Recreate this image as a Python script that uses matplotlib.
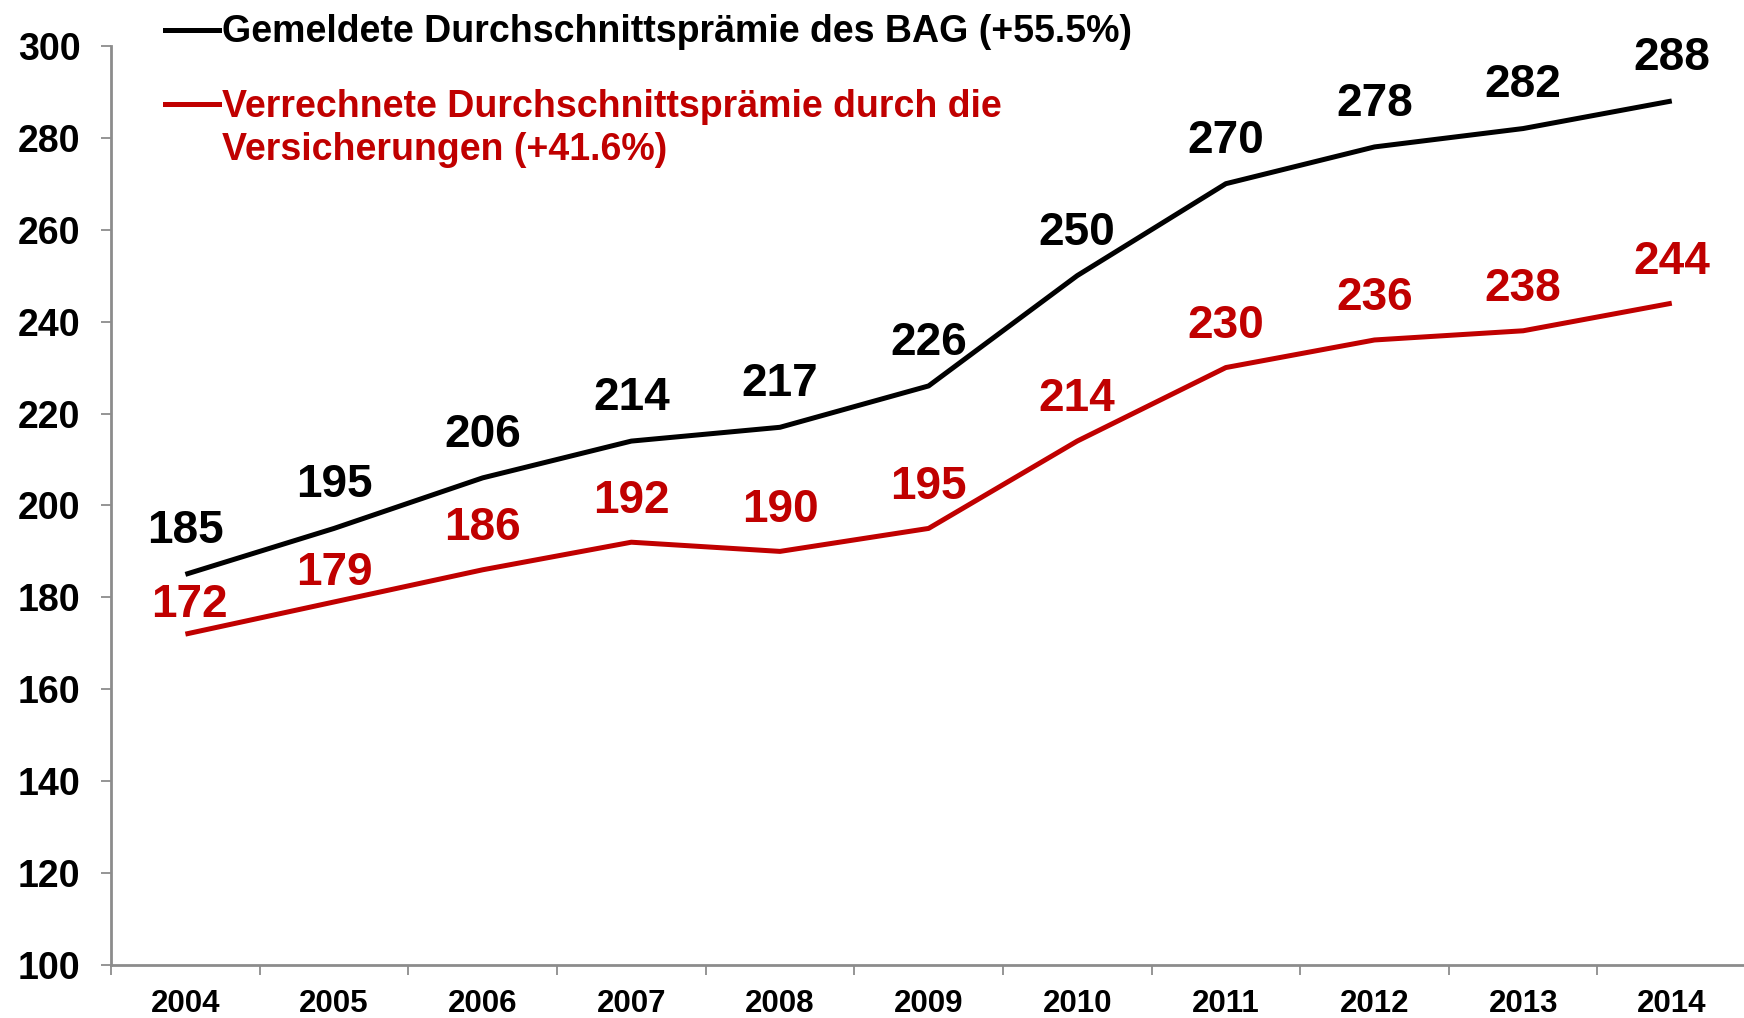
import matplotlib.pyplot as plt
from matplotlib.lines import Line2D

# Daten
years = ['2004', '2005', '2006', '2007', '2008', '2009', '2010', '2011', '2012', '2013', '2014']
bag = [185, 195, 206, 214, 217, 226, 250, 270, 278, 282, 288]
verrechnet = [172, 179, 186, 192, 190, 195, 214, 230, 236, 238, 244]
yticks = [100, 120, 140, 160, 180, 200, 220, 240, 260, 280, 300]

label_bag = 'Gemeldete Durchschnittsprämie des BAG (+55.5%)'
label_ver = ['Verrechnete Durchschnittsprämie durch die', 'Versicherungen (+41.6%)']

RED = '#C00000'
GREY = '#8C8C8C'

plt.rcParams['font.family'] = ['Liberation Sans', 'DejaVu Sans']
plt.rcParams['font.weight'] = 'bold'

fig = plt.figure(figsize=(17.44, 10.18), dpi=100)
ax = fig.add_axes([0.0637, 0.052, 0.9375, 0.903])

x = list(range(len(years)))
ax.plot(x, bag, color='black', lw=3.6, solid_capstyle='butt')
ax.plot(x, verrechnet, color=RED, lw=3.6, solid_capstyle='butt')

for i, v in enumerate(bag):
    ax.annotate(str(v), (i, v), xytext=(0, 31), textcoords='offset points',
                ha='center', va='center', fontsize=33, fontweight='bold', color='black')
for i, v in enumerate(verrechnet):
    off = 21 if i < 2 else 30
    dx = 3 if i == 0 else 0
    ax.annotate(str(v), (i, v), xytext=(dx, off), textcoords='offset points',
                ha='center', va='center', fontsize=33, fontweight='bold', color=RED)

ax.set_xlim(-0.5, len(years) - 0.5)
ax.set_ylim(100, 300)
ax.set_yticks(yticks)
ax.set_yticklabels([str(t) for t in yticks])
ax.tick_params(axis='y', labelsize=27, length=7, width=1.3, color=GREY, pad=15)

ax.set_xticks([i - 0.5 for i in range(len(years) + 1)])
ax.set_xticklabels([])
ax.set_xticks(x, minor=True)
ax.set_xticklabels(years, minor=True)
ax.tick_params(axis='x', which='major', length=7, width=1.3, color=GREY, direction='out')
ax.tick_params(axis='x', which='minor', length=0, labelsize=22.5, pad=17)

for lab in ax.get_yticklabels() + ax.get_xticklabels(minor=True):
    lab.set_fontweight('bold')

for s in ['top', 'right']:
    ax.spines[s].set_visible(False)
for s in ['left', 'bottom']:
    ax.spines[s].set_color(GREY)
    ax.spines[s].set_linewidth(2)

# Legende von Hand
H = 1018.0
W = 1744.0
fig.add_artist(Line2D([165 / W, 219 / W], [1 - 30 / H, 1 - 30 / H], color='black', lw=3.6,
                      transform=fig.transFigure))
fig.text(222 / W, 1 - 32 / H, label_bag, fontsize=27, fontweight='bold', color='black',
         ha='left', va='center')
fig.add_artist(Line2D([165 / W, 219 / W], [1 - 104 / H, 1 - 104 / H], color=RED, lw=3.6,
                      transform=fig.transFigure))
fig.text(222 / W, 1 - 107 / H, label_ver[0], fontsize=27, fontweight='bold', color=RED,
         ha='left', va='center')
fig.text(222 / W, 1 - 150 / H, label_ver[1], fontsize=27, fontweight='bold', color=RED,
         ha='left', va='center')

fig.savefig('out.png', dpi=100)
